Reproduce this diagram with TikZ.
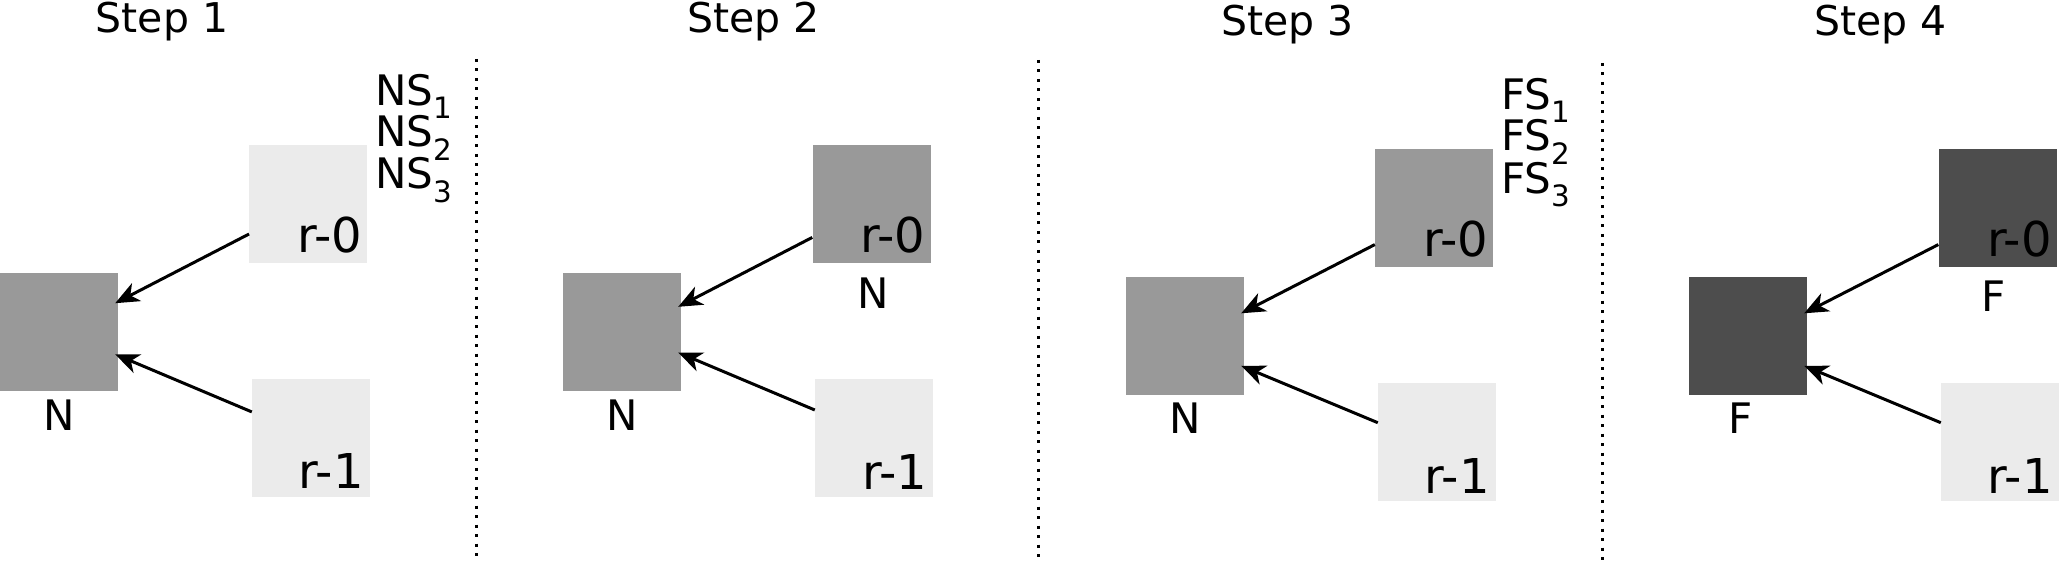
\documentclass[tikz,border=0pt]{standalone}
\usepackage{fontspec}
\setmainfont{DejaVu Sans}
\usetikzlibrary{arrows.meta}
\definecolor{boxlight}{HTML}{EBEBEB}
\definecolor{boxmid}{HTML}{999999}
\definecolor{boxdark}{HTML}{4D4D4D}
\tikzset{
  sq/.style={rectangle, inner sep=0pt, minimum width=118pt, minimum height=118pt, draw=none},
  sqlight/.style={sq, fill=boxlight},
  sqmid/.style={sq, fill=boxmid},
  sqdark/.style={sq, fill=boxdark},
  steptitle/.style={anchor=base, inner sep=0pt, font=\fontsize{41}{49}\selectfont},
  rtext/.style={anchor=base east, inner sep=0pt, font=\fontsize{48}{56}\selectfont},
  statetext/.style={anchor=base, inner sep=0pt, font=\fontsize{42}{50}\selectfont},
  sublist/.style={anchor=base west, inner sep=0pt, font=\fontsize{42}{50}\selectfont},
  link/.style={line width=3pt, -{Stealth[length=24pt, width=20pt, inset=7pt]}},
  sep/.style={line width=3pt, dash pattern=on 3pt off 6.5pt}
}
\begin{document}
\begin{tikzpicture}[x=1pt,y=-1pt]
\useasboundingbox (0,0) rectangle (2059,564);
\fill[white] (0,0) rectangle (2059,564);

% separators
\draw[sep] (476,59) -- (476,558);
\draw[sep] (1038.5,60) -- (1038.5,560);
\draw[sep] (1602,63) -- (1602,561);

% titles
\node[steptitle] (t1) at (162,32.4) {Step 1};
\node[steptitle] (t2) at (753.5,32.4) {Step 2};
\node[steptitle] (t3) at (1287.5,36) {Step 3};
\node[steptitle] (t4) at (1880.5,36) {Step 4};

% ---------- Step 1
\node[sqmid] (n1) at (59,331.8) {};
\node[sqlight] (a1) at (308.3,204) {};
\node[sqlight] (b1) at (311,437.6) {};
\node[rtext] (a1t) at ([xshift=-5pt,yshift=11pt]a1.south east) {r-0};
\node[rtext] (b1t) at ([xshift=-6.5pt,yshift=8pt]b1.south east) {r-1};
\node[statetext] (n1t) at ([yshift=-39.3pt]n1.south) {N};
\node[sublist] (ns1) at (375,106) {NS\textsubscript{1}};
\node[sublist] (ns2) at (375,146.8) {NS\textsubscript{2}};
\node[sublist] (ns3) at (375,188.8) {NS\textsubscript{3}};
\draw[link] ([yshift=-30pt]a1.west) -- ([xshift=-3pt,yshift=28.6pt]n1.east);
\draw[link] ([yshift=25.7pt]b1.west) -- ([xshift=-3pt,yshift=-22.5pt]n1.east);

% ---------- Step 2
\node[sqmid] (n2) at (622,331.8) {};
\node[sqmid] (a2) at (871.5,204) {};
\node[sqlight] (b2) at (874,437.8) {};
\node[rtext] (a2t) at ([xshift=-5.5pt,yshift=11pt]a2.south east) {r-0};
\node[rtext] (b2t) at ([xshift=-6pt,yshift=8pt]b2.south east) {r-1};
\node[statetext] (n2t) at ([yshift=-39.3pt]n2.south) {N};
\node[statetext] (a2s) at ([xshift=1.5pt,yshift=-45pt]a2.south) {N};
\draw[link] ([yshift=-33.4pt]a2.west) -- ([xshift=-3pt,yshift=25pt]n2.east);
\draw[link] ([yshift=27.8pt]b2.west) -- ([xshift=-3pt,yshift=-20.7pt]n2.east);

% ---------- Step 3
\node[sqmid] (n3) at (1185,335.8) {};
\node[sqmid] (a3) at (1434,207.9) {};
\node[sqlight] (b3) at (1437,441.7) {};
\node[rtext] (a3t) at ([xshift=-5pt,yshift=11pt]a3.south east) {r-0};
\node[rtext] (b3t) at ([xshift=-6.5pt,yshift=7.6pt]b3.south east) {r-1};
\node[statetext] (n3t) at ([yshift=-38.7pt]n3.south) {N};
\node[sublist] (fs1) at (1501,109.7) {FS\textsubscript{1}};
\node[sublist] (fs2) at (1501,151) {FS\textsubscript{2}};
\node[sublist] (fs3) at (1501,193.2) {FS\textsubscript{3}};
\draw[link] ([yshift=-36.7pt]a3.west) -- ([xshift=-3pt,yshift=22.5pt]n3.east);
\draw[link] ([yshift=19pt]b3.west) -- ([xshift=-3pt,yshift=-30pt]n3.east);

% ---------- Step 4
\node[sqdark] (n4) at (1748,335.8) {};
\node[sqdark] (a4) at (1997.5,207.9) {};
\node[sqlight] (b4) at (2000,441.7) {};
\node[rtext] (a4t) at ([xshift=-5pt,yshift=11pt]a4.south east) {r-0};
\node[rtext] (b4t) at ([xshift=-6.5pt,yshift=7.6pt]b4.south east) {r-1};
\node[statetext] (n4t) at ([xshift=-7pt,yshift=-38.9pt]n4.south) {F};
\node[statetext] (a4s) at ([xshift=-4pt,yshift=-44pt]a4.south) {F};
\draw[link] ([yshift=-36.7pt]a4.west) -- ([xshift=-3pt,yshift=22.5pt]n4.east);
\draw[link] ([yshift=19pt]b4.west) -- ([xshift=-3pt,yshift=-30pt]n4.east);
\end{tikzpicture}
\end{document}
